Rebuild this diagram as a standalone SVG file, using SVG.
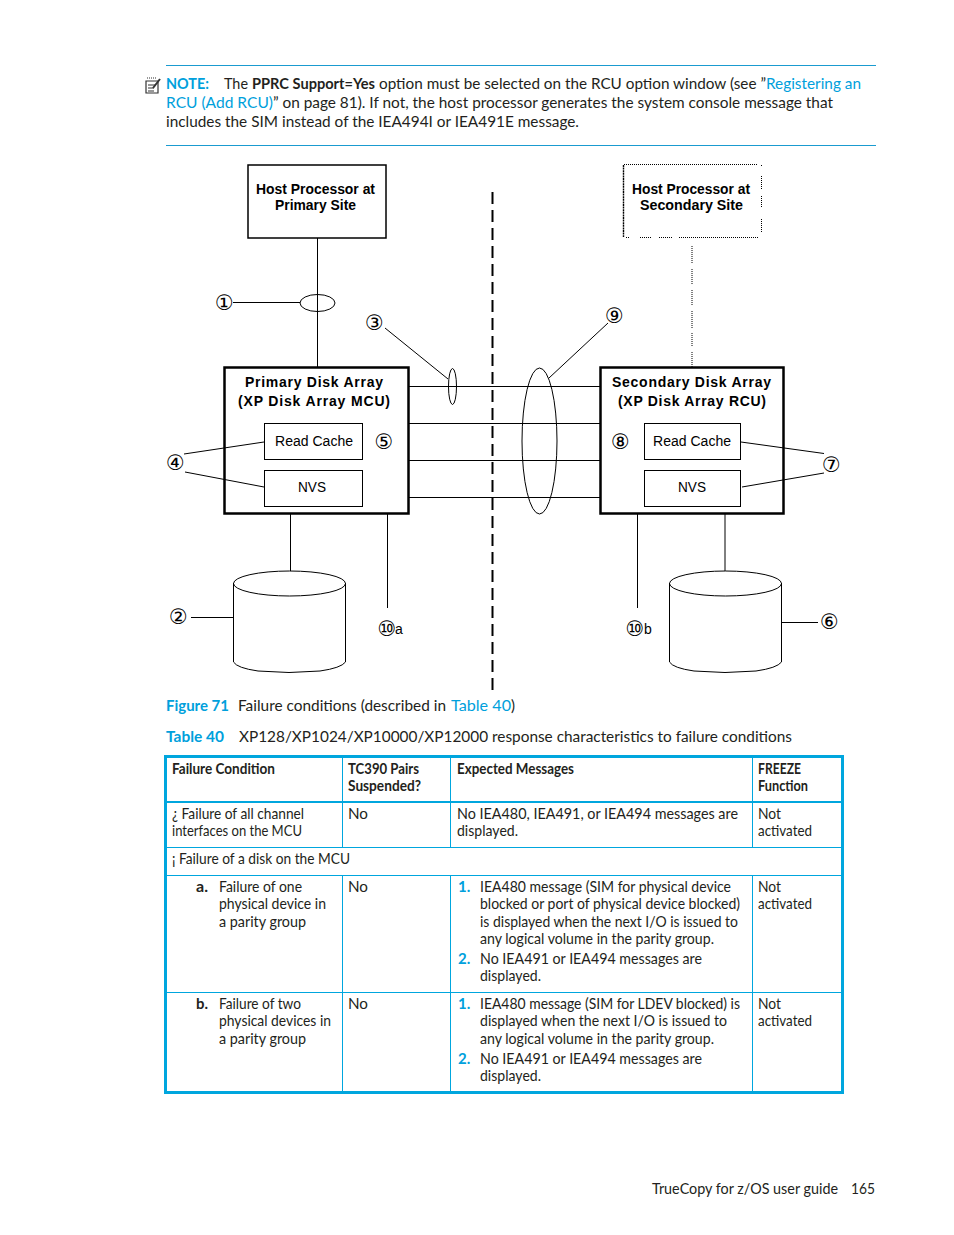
<svg xmlns="http://www.w3.org/2000/svg" width="954" height="1235" viewBox="0 0 954 1235">
<style>
text{font-family:"Lato","Noto Sans","Liberation Sans",sans-serif;font-size:15px;fill:#231f20}
.b{font-weight:700}
.c{fill:#00a0dc}
.d{font-family:"Liberation Sans",Arial,sans-serif;font-size:14px;fill:#000;text-anchor:start}
.db{font-weight:700}
.n{font-family:"DejaVu Sans",sans-serif;font-size:21px;fill:#000;text-anchor:middle}
.l{stroke:#000;stroke-width:1;fill:none}
.box{stroke:#000;stroke-width:1;fill:#fff}
.arr{stroke:#000;stroke-width:2.5;fill:none}
.rule{stroke:#1a9bd0;stroke-width:1}
.t{stroke:#00a6de;stroke-width:1;fill:none}
.dot{stroke:#000;stroke-width:1;fill:none;stroke-dasharray:1 1}
</style>
<rect width="954" height="1235" fill="#fff"/>
<line class="rule" x1="166" y1="65.5" x2="876" y2="65.5"/>
<line class="rule" x1="166" y1="145.5" x2="876" y2="145.5"/>
<g id="note-icon" fill="none" stroke="#333" stroke-width="1.2">
<path d="M146 81H158V93H146Z"/><path d="M148 85H155M148 88H154M148 91H154"/><path d="M153 88L160 79" stroke-width="2"/><path d="M147 78H157" stroke-dasharray="1 1"/>
</g>
<g id="note-text">
<text class="b c" x="166" y="89" textLength="43" lengthAdjust="spacingAndGlyphs">NOTE:</text>
<text x="224" y="89" textLength="24" lengthAdjust="spacingAndGlyphs">The</text>
<text class="b" x="252" y="89" textLength="123" lengthAdjust="spacingAndGlyphs">PPRC Support=Yes</text>
<text x="379" y="89" textLength="387" lengthAdjust="spacingAndGlyphs">option must be selected on the RCU option window (see ”</text>
<text class="c" x="766" y="89" textLength="95" lengthAdjust="spacingAndGlyphs">Registering an</text>
<text class="c" x="166" y="108" textLength="107" lengthAdjust="spacingAndGlyphs">RCU (Add RCU)</text>
<text x="273" y="108" textLength="560" lengthAdjust="spacingAndGlyphs">” on page 81). If not, the host processor generates the system console message that</text>
<text x="166" y="127" textLength="413" lengthAdjust="spacingAndGlyphs">includes the SIM instead of the IEA494I or IEA491E message.</text>
</g>
<g id="connectors">
<line class="l" x1="317.5" y1="238" x2="317.5" y2="367"/>
<line class="l" x1="233" y1="302.5" x2="300" y2="302.5"/>
<line class="l" x1="385" y1="328" x2="448" y2="379"/>
<line class="l" x1="608" y1="323" x2="549" y2="378"/>
<path class="l" d="M409 386.5H600M409 423.5H600M409 460.5H600M409 497.5H600"/>
<path class="l" d="M184 454L264 442M185 472L264 487"/>
<path class="l" d="M741 442L824 453.5M742 487L824 473"/>
<line class="l" x1="290.5" y1="514" x2="290.5" y2="571"/>
<line class="l" x1="387.5" y1="514" x2="387.5" y2="608"/>
<line class="l" x1="637.5" y1="514" x2="637.5" y2="608"/>
<line class="l" x1="725" y1="514" x2="725" y2="571" stroke-width="2"/>
<line class="l" x1="191" y1="617.5" x2="233" y2="617.5"/>
<line class="l" x1="781" y1="622.5" x2="818" y2="622.5"/>
<line x1="492.5" y1="192" x2="492.5" y2="690" stroke="#000" stroke-width="2" stroke-dasharray="12 6"/>
<path class="dot" d="M692 246V264M692 269V285M692 290V306M692 311V329M692 333V347M692 352V367"/>
<ellipse class="l" cx="317.5" cy="303" rx="17.5" ry="8.5"/>
<ellipse class="l" cx="452.5" cy="386.5" rx="4" ry="18"/>
<ellipse class="l" cx="539.5" cy="441" rx="17.5" ry="73"/>
</g>
<g id="host-primary">
<rect x="248" y="165" width="138" height="73" fill="#fff" stroke="#000" stroke-width="1.5"/>
<text class="d db" x="256" y="194" textLength="119" lengthAdjust="spacingAndGlyphs">Host Processor at</text>
<text class="d db" x="275" y="210" textLength="81" lengthAdjust="spacingAndGlyphs">Primary Site</text>
</g>
<g id="host-secondary">
<path class="dot" d="M624 164.5H758M761.5 165V167M761.5 176V190M761.5 196V208M761.5 219V232"/>
<path class="dot" d="M623.5 165V237" stroke-width="1.6" style="stroke-dasharray:2 0.6;stroke-width:1.4"/>
<path class="dot" d="M626 237.5H630M640 237.5H652M659 237.5H672M679 237.5H758"/>
<text class="d db" x="632" y="194" textLength="118" lengthAdjust="spacingAndGlyphs">Host Processor at</text>
<text class="d db" x="640" y="210" textLength="103" lengthAdjust="spacingAndGlyphs">Secondary Site</text>
</g>
<g id="primary-array">
<rect class="arr" x="224.5" y="367.5" width="184" height="146"/>
<text class="d db" x="245" y="387" textLength="138" lengthAdjust="spacing">Primary Disk Array</text>
<text class="d db" x="238" y="406" textLength="152" lengthAdjust="spacing">(XP Disk Array MCU)</text>
</g>
<g id="primary-read-cache">
<rect class="box" x="264.5" y="423.5" width="98" height="36"/>
<text class="d" x="275" y="446" textLength="78" lengthAdjust="spacing">Read Cache</text>
</g>
<g id="primary-nvs">
<rect class="box" x="264.5" y="470.5" width="98" height="36"/>
<text class="d" x="298" y="492" textLength="28" lengthAdjust="spacingAndGlyphs">NVS</text>
</g>
<g id="secondary-array">
<rect class="arr" x="600.5" y="367.5" width="183" height="146"/>
<text class="d db" x="612" y="387" textLength="159" lengthAdjust="spacing">Secondary Disk Array</text>
<text class="d db" x="618" y="406" textLength="148" lengthAdjust="spacing">(XP Disk Array RCU)</text>
</g>
<g id="secondary-read-cache">
<rect class="box" x="644.5" y="423.5" width="96" height="36"/>
<text class="d" x="653" y="446" textLength="78" lengthAdjust="spacing">Read Cache</text>
</g>
<g id="secondary-nvs">
<rect class="box" x="644.5" y="470.5" width="96" height="36"/>
<text class="d" x="678" y="492" textLength="28" lengthAdjust="spacingAndGlyphs">NVS</text>
</g>
<g id="disk-primary">
<path class="l" d="M233.5 583V662Q237 668 258 671Q289 674 320 671Q341 668 345.5 662V583"/>
<ellipse class="l" cx="289.5" cy="583.5" rx="56" ry="12.5"/>
</g>
<g id="disk-secondary">
<path class="l" d="M669.5 583V662Q673 668 694 671Q725 674 756 671Q777 668 781.5 662V583"/>
<ellipse class="l" cx="725.5" cy="583.5" rx="56" ry="12.5"/>
</g>
<g id="callouts">
<text class="n" x="224.5" y="310">①</text>
<text class="n" x="178.5" y="624">②</text>
<text class="n" x="374.5" y="330">③</text>
<text class="n" x="175.5" y="470">④</text>
<text class="n" x="384" y="449">⑤</text>
<text class="n" x="829.5" y="629">⑥</text>
<text class="n" x="831.5" y="472">⑦</text>
<text class="n" x="620.5" y="449">⑧</text>
<text class="n" x="614.5" y="323">⑨</text>
<text class="n" x="387" y="636">⑩</text>
<text class="d" x="395" y="634">a</text>
<text class="n" x="635" y="636">⑩</text>
<text class="d" x="644" y="634">b</text>
</g>
<g id="captions">
<text class="b c" x="166" y="711" textLength="63" lengthAdjust="spacingAndGlyphs">Figure 71</text>
<text x="238" y="711" textLength="208" lengthAdjust="spacingAndGlyphs">Failure conditions (described in</text>
<text class="c" x="451" y="711" textLength="60" lengthAdjust="spacingAndGlyphs">Table 40</text>
<text x="511" y="711">)</text>
<text class="b c" x="166" y="742" textLength="58" lengthAdjust="spacingAndGlyphs">Table 40</text>
<text x="239" y="742" textLength="553" lengthAdjust="spacingAndGlyphs">XP128/XP1024/XP10000/XP12000 response characteristics to failure conditions</text>
</g>
<g id="table-lines">
<path class="t" d="M342.5 757V847M450.5 757V847M752.5 757V847M342.5 875V1092M450.5 875V1092M752.5 875V1092"/>
<path class="t" d="M166 847.5H842M166 875.5H842M166 992.5H842"/>
<line x1="166" y1="802" x2="842" y2="802" stroke="#00a6de" stroke-width="2"/>
<rect x="165.5" y="756.5" width="677" height="336" fill="none" stroke="#00a6de" stroke-width="3"/>
</g>
<g id="table-text" style="font-size:14px">
<text class="b" x="172" y="774" textLength="103" lengthAdjust="spacingAndGlyphs">Failure Condition</text>
<text class="b" x="348" y="774" textLength="71" lengthAdjust="spacingAndGlyphs">TC390 Pairs</text>
<text class="b" x="348" y="791" textLength="73" lengthAdjust="spacingAndGlyphs">Suspended?</text>
<text class="b" x="457" y="774" textLength="117" lengthAdjust="spacingAndGlyphs">Expected Messages</text>
<text class="b" x="758" y="774" textLength="43" lengthAdjust="spacingAndGlyphs">FREEZE</text>
<text class="b" x="758" y="791" textLength="50" lengthAdjust="spacingAndGlyphs">Function</text>
<text x="172" y="819" textLength="132" lengthAdjust="spacingAndGlyphs">¿ Failure of all channel</text>
<text x="172" y="836" textLength="130" lengthAdjust="spacingAndGlyphs">interfaces on the MCU</text>
<text x="348" y="819" textLength="20" lengthAdjust="spacingAndGlyphs">No</text>
<text x="457" y="819" textLength="281" lengthAdjust="spacingAndGlyphs">No IEA480, IEA491, or IEA494 messages are</text>
<text x="457" y="836" textLength="61" lengthAdjust="spacingAndGlyphs">displayed.</text>
<text x="758" y="819" textLength="23" lengthAdjust="spacingAndGlyphs">Not</text>
<text x="758" y="836" textLength="54" lengthAdjust="spacingAndGlyphs">activated</text>
<text x="172" y="864" textLength="178" lengthAdjust="spacingAndGlyphs">¡ Failure of a disk on the MCU</text>
<text class="b" x="196" y="892" textLength="12" lengthAdjust="spacingAndGlyphs">a.</text>
<text x="219" y="892" textLength="83" lengthAdjust="spacingAndGlyphs">Failure of one</text>
<text x="219" y="909" textLength="107" lengthAdjust="spacingAndGlyphs">physical device in</text>
<text x="219" y="927" textLength="87" lengthAdjust="spacingAndGlyphs">a parity group</text>
<text x="348" y="892" textLength="20" lengthAdjust="spacingAndGlyphs">No</text>
<text class="b c" x="458" y="892">1.</text>
<text x="480" y="892" textLength="251" lengthAdjust="spacingAndGlyphs">IEA480 message (SIM for physical device</text>
<text x="480" y="909" textLength="260" lengthAdjust="spacingAndGlyphs">blocked or port of physical device blocked)</text>
<text x="480" y="927" textLength="258" lengthAdjust="spacingAndGlyphs">is displayed when the next I/O is issued to</text>
<text x="480" y="944" textLength="234" lengthAdjust="spacingAndGlyphs">any logical volume in the parity group.</text>
<text class="b c" x="458" y="964">2.</text>
<text x="480" y="964" textLength="222" lengthAdjust="spacingAndGlyphs">No IEA491 or IEA494 messages are</text>
<text x="480" y="981" textLength="61" lengthAdjust="spacingAndGlyphs">displayed.</text>
<text x="758" y="892" textLength="23" lengthAdjust="spacingAndGlyphs">Not</text>
<text x="758" y="909" textLength="54" lengthAdjust="spacingAndGlyphs">activated</text>
<text class="b" x="196" y="1009" textLength="12" lengthAdjust="spacingAndGlyphs">b.</text>
<text x="219" y="1009" textLength="82" lengthAdjust="spacingAndGlyphs">Failure of two</text>
<text x="219" y="1026" textLength="112" lengthAdjust="spacingAndGlyphs">physical devices in</text>
<text x="219" y="1044" textLength="87" lengthAdjust="spacingAndGlyphs">a parity group</text>
<text x="348" y="1009" textLength="20" lengthAdjust="spacingAndGlyphs">No</text>
<text class="b c" x="458" y="1009">1.</text>
<text x="480" y="1009" textLength="260" lengthAdjust="spacingAndGlyphs">IEA480 message (SIM for LDEV blocked) is</text>
<text x="480" y="1026" textLength="247" lengthAdjust="spacingAndGlyphs">displayed when the next I/O is issued to</text>
<text x="480" y="1044" textLength="234" lengthAdjust="spacingAndGlyphs">any logical volume in the parity group.</text>
<text class="b c" x="458" y="1064">2.</text>
<text x="480" y="1064" textLength="222" lengthAdjust="spacingAndGlyphs">No IEA491 or IEA494 messages are</text>
<text x="480" y="1081" textLength="61" lengthAdjust="spacingAndGlyphs">displayed.</text>
<text x="758" y="1009" textLength="23" lengthAdjust="spacingAndGlyphs">Not</text>
<text x="758" y="1026" textLength="54" lengthAdjust="spacingAndGlyphs">activated</text>
</g>
<g id="footer">
<text x="652" y="1194" textLength="186" lengthAdjust="spacingAndGlyphs">TrueCopy for z/OS user guide</text>
<text x="851" y="1194" textLength="24" lengthAdjust="spacingAndGlyphs">165</text>
</g>
</svg>
